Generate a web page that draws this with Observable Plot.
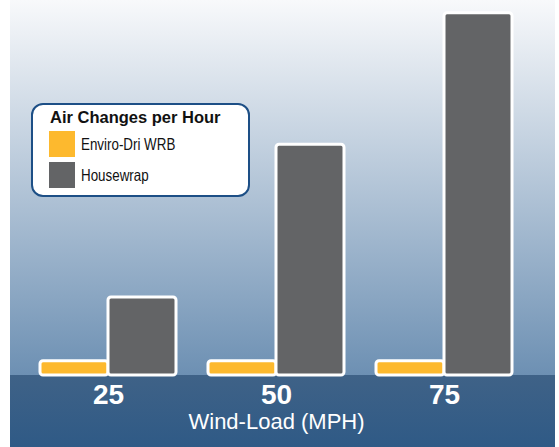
<!DOCTYPE html>
<html>
<head>
<meta charset="utf-8">
<script src="https://cdn.jsdelivr.net/npm/d3@7"></script>
<script src="https://cdn.jsdelivr.net/npm/@observablehq/plot@0.6"></script>
<style>
  html, body { margin: 0; padding: 0; background: #ffffff; }
  #wrap { position: relative; width: 559px; height: 447px; overflow: hidden; }
  #bg {
    position: absolute; left: 10px; top: 0; width: 545px; height: 447px;
    background: linear-gradient(to bottom, #f8f9fb 0px, #6d90b3 375px, #3f6287 375px, #2f5a86 447px);
  }
  #chart { position: absolute; left: 0; top: 0; }
  #legend {
    position: absolute; left: 31px; top: 103px; width: 215px; height: 90px;
    background: #ffffff; border: 2px solid #1d4f86; border-radius: 12px;
    font-family: "Liberation Sans", Arial, sans-serif; color: #111;
  }
  #legend .title { position: absolute; left: 17px; top: 2px; font-weight: bold; font-size: 16.5px; line-height: 20px; white-space: nowrap; }
  #legend .item { position: absolute; left: 16px; height: 26px; display: flex; align-items: center; white-space: nowrap; }
  #legend .sw { width: 26px; height: 26px; margin-right: 6px; flex: none; }
  #legend .lab { display: inline-block; font-size: 16.5px; transform: scaleX(0.81); transform-origin: left center; }
</style>
</head>
<body>
<div id="wrap">
  <div id="bg"></div>
  <div id="chart"></div>
  <div id="legend"></div>
</div>
<script>
const windLoads = ["25", "50", "75"];
const series = ["Enviro-Dri WRB", "Housewrap"];
const enviroDri = [0.2, 0.2, 0.2];
const housewrap = [1.1, 3.25, 5.1];
const colors = ["#fdb92e", "#636466"];
const legendTitle = "Air Changes per Hour";
const axisLabel = "Wind-Load (MPH)";

const rows = [];
windLoads.forEach((w, i) => {
  rows.push({wind: w, series: series[0], value: enviroDri[i]});
  rows.push({wind: w, series: series[1], value: housewrap[i]});
});

const chart = Plot.plot({
  width: 559,
  height: 447,
  marginLeft: 10,
  marginRight: 4,
  marginTop: 0,
  marginBottom: 72,
  style: {background: "transparent", overflow: "visible"},
  fx: {domain: windLoads, range: [39, 512], paddingInner: 0.193, paddingOuter: 0},
  x: {domain: series, padding: 0, axis: null},
  y: {domain: [0, 5.28], axis: null},
  color: {domain: series, range: colors},
  marks: [
    Plot.barY(rows, {fx: "wind", x: "series", y: "value", fill: "series", stroke: "white", strokeWidth: 3, rx: 3, inset: 0}),
    Plot.axisFx({anchor: "bottom", tickSize: 0, tickPadding: 9, fontSize: 28, fontWeight: "bold", color: "white", fontFamily: "Liberation Sans, Arial, sans-serif", label: null}),
    Plot.axisFx({anchor: "bottom", ticks: [], tickSize: 0, label: axisLabel, labelAnchor: "center", labelOffset: 53, fontSize: 22, color: "white", fontFamily: "Liberation Sans, Arial, sans-serif"})
  ]
});
document.getElementById("chart").appendChild(chart);

const legend = document.getElementById("legend");
const t = document.createElement("div");
t.className = "title";
t.textContent = legendTitle;
legend.appendChild(t);
series.forEach((s, i) => {
  const item = document.createElement("div");
  item.className = "item";
  item.style.top = (26 + i * 31) + "px";
  const sw = document.createElement("div");
  sw.className = "sw";
  sw.style.background = colors[i];
  const lab = document.createElement("span");
  lab.className = "lab";
  lab.textContent = s;
  item.appendChild(sw);
  item.appendChild(lab);
  legend.appendChild(item);
});
</script>
</body>
</html>
